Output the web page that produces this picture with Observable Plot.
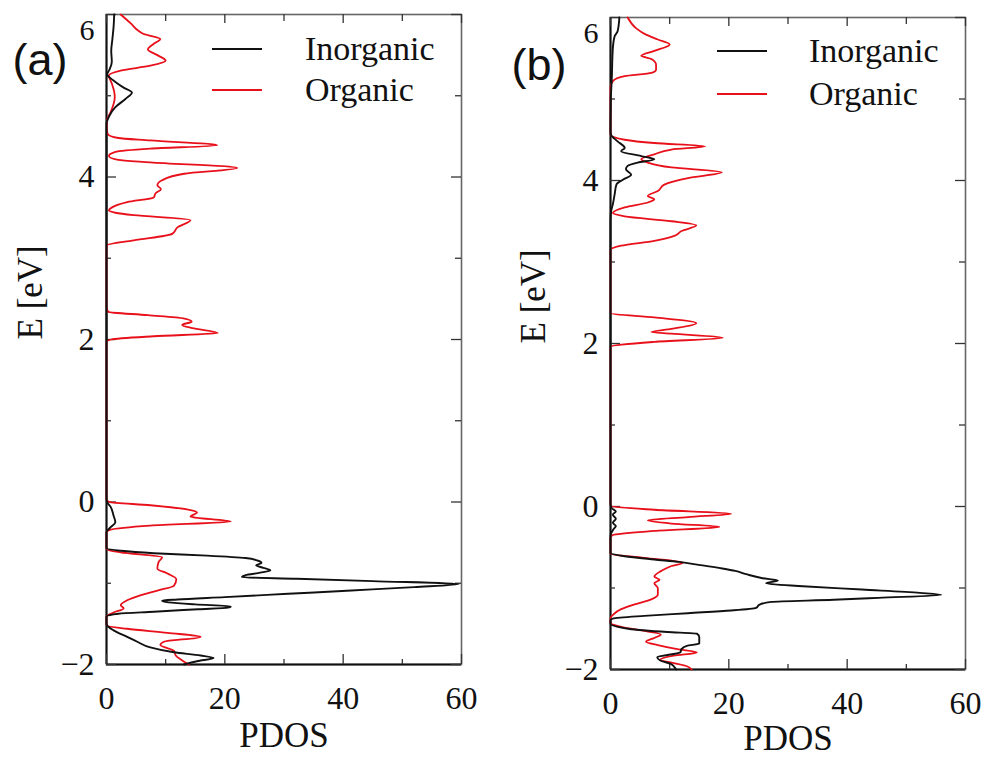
<!DOCTYPE html>
<html><head><meta charset="utf-8">
<script src="https://cdn.jsdelivr.net/npm/d3@7"></script>
<script src="https://cdn.jsdelivr.net/npm/@observablehq/plot@0.6"></script>
<style>
html,body{margin:0;padding:0;background:#fff;}
#wrap{position:relative;width:985px;height:763px;overflow:hidden;background:#fff;}
.panel{position:absolute;top:0;}
.leg{position:absolute;font-family:"Liberation Serif",serif;font-size:34px;line-height:1;color:#111;transform:translateY(-50%);white-space:nowrap;}
.sw{position:absolute;height:0;border-top-style:solid;border-top-width:2px;transform:translateY(-1px);}
</style></head><body><div id="wrap"></div>
<script>
// ---- data: [E (eV), PDOS] pairs ----
const aInorganic = [
 [6.00,1.3],[5.85,1.2],[5.70,1.0],[5.55,0.8],[5.42,0.9],[5.32,0.5],[5.26,0.1],[5.22,0.6],[5.17,1.5],
 [5.10,2.9],[5.04,4.3],[4.96,3.2],[4.86,1.5],[4.74,0.4],[4.66,0.0],[3.0,0.0],[1.0,0.0],[0.05,0.0],
 [0.00,0.1],[-0.06,0.7],[-0.17,1.2],[-0.25,1.5],[-0.31,0.7],[-0.37,0.0],[-0.57,0.0],[-0.60,2.4],
 [-0.63,8.0],[-0.66,17.0],[-0.69,23.5],[-0.72,25.5],[-0.75,26.2],[-0.78,25.3],[-0.81,26.5],[-0.84,27.7],
 [-0.87,26.0],[-0.90,23.5],[-0.925,22.9],[-0.945,32.2],[-0.974,45.0],[-1.010,59.5],[-1.048,52.0],
 [-1.089,41.4],[-1.130,30.7],[-1.171,20.0],[-1.200,12.0],[-1.215,9.4],[-1.235,10.5],[-1.26,15.0],
 [-1.285,21.0],[-1.30,20.5],[-1.32,15.5],[-1.35,8.0],[-1.375,2.0],[-1.41,0.0],[-1.50,0.0],[-1.58,1.2],
 [-1.66,3.5],[-1.72,5.2],[-1.79,7.4],[-1.85,11.4],[-1.89,15.9],[-1.92,18.1],[-1.96,15.3],[-2.00,13.1]
];
const aOrganic = [
 [6.00,2.4],[5.89,4.1],[5.80,5.4],[5.76,6.3],[5.70,9.1],[5.64,8.0],[5.57,7.0],[5.50,8.6],[5.43,10.0],
 [5.37,7.4],[5.31,2.4],[5.25,0.4],[5.15,0.9],[5.05,1.3],[4.98,1.4],[4.90,1.2],[4.80,0.7],[4.70,0.1],
 [4.60,0.05],[4.53,0.2],[4.48,2.0],[4.45,7.4],[4.39,18.7],[4.35,7.4],[4.31,1.5],[4.26,0.4],[4.21,2.0],
 [4.18,7.4],[4.11,22.1],[4.04,13.1],[3.96,9.4],[3.90,8.6],[3.85,9.2],[3.80,8.3],[3.75,8.0],[3.69,3.5],
 [3.62,0.8],[3.59,0.4],[3.56,1.5],[3.53,4.6],[3.47,14.2],[3.38,12.0],[3.30,11.1],[3.22,4.6],[3.16,0.1],
 [3.10,0.0],[2.40,0.0],[2.34,0.3],[2.30,7.0],[2.26,13.0],[2.22,14.4],[2.18,12.8],[2.14,14.5],[2.08,18.8],
 [2.04,8.0],[2.00,0.8],[1.97,0.0],[0.03,0.0],[0.00,0.5],[-0.04,7.4],[-0.10,14.2],[-0.13,15.3],[-0.18,14.2],
 [-0.24,21.0],[-0.29,7.4],[-0.34,0.7],[-0.37,0.0],[-0.58,0.0],[-0.62,2.4],[-0.68,9.4],[-0.74,8.8],
 [-0.82,8.6],[-0.88,10.3],[-0.95,11.8],[-1.03,11.4],[-1.09,8.6],[-1.15,5.7],[-1.21,3.5],[-1.27,2.4],
 [-1.31,2.9],[-1.36,1.2],[-1.41,0.0],[-1.52,0.0],[-1.56,3.5],[-1.61,10.3],[-1.66,15.9],[-1.72,9.7],
 [-1.76,9.1],[-1.83,11.4],[-1.89,11.7],[-1.95,12.8],[-2.00,13.9]
];
const bInorganic = [
 [6.00,1.5],[5.83,1.2],[5.77,0.7],[5.63,0.4],[5.22,0.2],[5.00,0.05],[4.60,0.0],[4.56,0.1],[4.48,1.2],
 [4.40,2.4],[4.36,1.8],[4.30,5.2],[4.26,7.4],[4.22,4.6],[4.18,2.9],[4.14,2.6],[4.07,3.5],[4.01,2.1],
 [3.95,1.0],[3.83,0.7],[3.71,0.4],[3.62,0.1],[3.50,0.0],[1.0,0.0],[0.03,0.0],[-0.02,0.2],[-0.06,0.9],
 [-0.10,0.4],[-0.15,0.9],[-0.20,0.4],[-0.24,0.9],[-0.28,0.5],[-0.33,0.1],[-0.37,0.0],[-0.57,0.0],
 [-0.61,2.4],[-0.65,7.4],[-0.68,11.6],[-0.71,14.4],[-0.76,18.9],[-0.79,21.1],[-0.83,22.9],[-0.88,25.7],
 [-0.908,28.3],[-0.941,26.3],[-0.978,32.5],[-1.019,42.5],[-1.060,52.3],[-1.084,55.9],[-1.121,45.3],
 [-1.145,37.7],[-1.170,27.2],[-1.203,25.2],[-1.244,24.6],[-1.276,20.4],[-1.309,13.1],[-1.342,5.7],
 [-1.375,0.4],[-1.39,0.0],[-1.44,0.0],[-1.50,3.0],[-1.54,9.6],[-1.56,14.6],[-1.60,15.0],[-1.68,15.0],
 [-1.71,12.9],[-1.75,12.0],[-1.79,11.8],[-1.85,7.9],[-1.89,8.4],[-1.93,10.2],[-1.97,10.8],[-2.00,11.1]
];
const bOrganic = [
 [6.00,2.9],[5.87,4.3],[5.79,6.0],[5.73,8.0],[5.67,10.0],[5.59,7.4],[5.53,5.2],[5.49,6.9],[5.42,7.7],
 [5.36,7.7],[5.32,6.9],[5.28,2.4],[5.22,0.4],[5.15,0.0],[4.56,0.0],[4.50,2.4],[4.46,7.4],[4.42,16.0],
 [4.38,10.3],[4.32,7.4],[4.26,5.2],[4.22,6.3],[4.16,10.3],[4.10,18.8],[4.03,13.1],[3.95,9.1],[3.87,8.0],
 [3.81,6.3],[3.77,7.4],[3.73,6.3],[3.67,2.4],[3.60,0.4],[3.56,2.4],[3.50,10.3],[3.45,14.5],[3.38,12.0],
 [3.32,10.8],[3.26,7.4],[3.20,1.8],[3.15,0.0],[2.37,0.0],[2.32,7.4],[2.25,14.5],[2.18,10.3],[2.14,6.9],
 [2.12,10.3],[2.07,19.0],[2.02,7.4],[1.96,0.0],[0.01,0.0],[-0.04,7.4],[-0.09,20.4],[-0.13,13.1],
 [-0.17,6.3],[-0.21,10.3],[-0.25,18.4],[-0.30,7.4],[-0.35,0.4],[-0.38,0.0],[-0.58,0.0],[-0.63,5.7],
 [-0.69,12.2],[-0.73,10.3],[-0.79,8.6],[-0.86,7.4],[-0.90,8.3],[-0.94,7.4],[-1.00,8.0],[-1.08,8.0],
 [-1.14,6.9],[-1.20,4.1],[-1.26,1.8],[-1.33,0.4],[-1.37,0.0],[-1.43,0.0],[-1.48,2.0],[-1.53,6.0],
 [-1.57,8.5],[-1.61,7.5],[-1.66,6.0],[-1.70,8.0],[-1.75,11.3],[-1.79,14.6],[-1.83,10.7],[-1.88,8.4],
 [-1.92,10.5],[-1.96,12.9],[-2.00,13.7]
];
const xMajorTicks = [0, 20, 40, 60];
const xMinorTicks = [10, 30, 50];
const yMajorTicks = [-2, 0, 2, 4, 6];
const yMinorTicks = [-1, 1, 3, 5];
const seriesNames = ["Inorganic", "Organic"];
const seriesColors = ["#111111", "#e8101a"];
const panelLetters = ["(a)", "(b)"];
const xLabel = "PDOS";
const yLabel = "E [eV]";

const fmt = d => d < 0 ? "\u2212" + Math.abs(d) : String(d);
const byE = arr => d3.sort(arr, d => d[0]);

function makePanel(cfg) {
  const H = 763;
  const fh = H - cfg.mT - cfg.mB, fw = cfg.width - cfg.mL - cfg.mR;
  const tk = {stroke: "#333", strokeWidth: 1.3};
  return Plot.plot({
    width: cfg.width, height: H,
    marginLeft: cfg.mL, marginRight: cfg.mR, marginTop: cfg.mT, marginBottom: cfg.mB,
    x: {domain: [0, 60], axis: null},
    y: {domain: [-2, 6], axis: null},
    style: {fontFamily: "Liberation Serif", color: "#111", background: "transparent", overflow: "visible"},
    marks: [
      Plot.frame({stroke: "#666", strokeWidth: 1.6}),
      Plot.ruleX([0], {stroke: "#111", strokeWidth: 2}),
      Plot.ruleY([-2], {stroke: "#111", strokeWidth: 2}),
      Plot.tickX(xMajorTicks, {x: d => d, insetTop: fh - 10, ...tk}),
      Plot.tickX(xMinorTicks, {x: d => d, insetTop: fh - 5, ...tk}),
      Plot.tickX(xMajorTicks, {x: d => d, insetBottom: fh - 9, ...tk}),
      Plot.tickX(xMinorTicks, {x: d => d, insetBottom: fh - 7, ...tk}),
      Plot.tickY(yMajorTicks, {y: d => d, insetRight: fw - 10, ...tk}),
      Plot.tickY(yMinorTicks, {y: d => d, insetRight: fw - 5, ...tk}),
      Plot.tickY(yMajorTicks, {y: d => d, insetLeft: fw - 10, ...tk}),
      Plot.tickY(yMinorTicks, {y: d => d, insetLeft: fw - 6, ...tk}),
      Plot.line(byE(cfg.org), {x: d => d[1], y: d => d[0], stroke: seriesColors[1], strokeWidth: 1.8, curve: "monotone-y"}),
      Plot.line(byE(cfg.inorg), {x: d => d[1], y: d => d[0], stroke: seriesColors[0], strokeWidth: 1.9, curve: "monotone-y"}),
      Plot.text(xMajorTicks, {x: d => d, text: fmt, frameAnchor: "bottom", lineAnchor: "top", dy: 22, fontSize: 32, fill: "#111"}),
      Plot.text(yMajorTicks.filter(d => d !== 6), {y: d => d, text: fmt, frameAnchor: "left", textAnchor: "end", dx: -12, fontSize: 32, fill: "#111"}),
      Plot.text(yMajorTicks.filter(d => d === 6), {y: d => d, text: fmt, frameAnchor: "left", textAnchor: "end", dx: -12, dy: 16, fontSize: 30, fill: "#111"}),
      Plot.text([yLabel], {text: d => d, frameAnchor: "left", rotate: -90, dx: cfg.eDx, fontSize: 35, fill: "#111"}),
      Plot.text([xLabel], {text: d => d, frameAnchor: "bottom", dy: cfg.pDy, fontSize: 35, fill: "#111"}),
      Plot.text([cfg.letter], {text: d => d, frameAnchor: "top-left", textAnchor: "start", dx: cfg.lDx, dy: cfg.lDy, fontSize: 45, fontFamily: "Liberation Sans", fill: "#111"})
    ]
  });
}

const wrap = document.getElementById("wrap");
const panels = [
  {left: 0, width: 495, mL: 106, mR: 34, mT: 14, mB: 99, inorg: aInorganic, org: aOrganic, letter: panelLetters[0],
   lDx: -94, lDy: 29, eDx: -76, pDy: 82, leg: {x1: 212, x2: 262, tx: 305, ys: [49, 90]}},
  {left: 495, width: 490, mL: 115, mR: 20, mT: 17, mB: 94, inorg: bInorganic, org: bOrganic, letter: panelLetters[1],
   lDx: -99, lDy: 31, eDx: -77, pDy: 80, leg: {x1: 717, x2: 767, tx: 809, ys: [51, 94]}}
];
for (const p of panels) {
  const div = document.createElement("div");
  div.className = "panel";
  div.style.left = p.left + "px";
  div.appendChild(makePanel(p));
  wrap.appendChild(div);
  seriesNames.forEach((name, i) => {
    const sw = document.createElement("div");
    sw.className = "sw";
    sw.style.left = p.leg.x1 + "px";
    sw.style.width = (p.leg.x2 - p.leg.x1) + "px";
    sw.style.top = p.leg.ys[i] + "px";
    sw.style.borderTopColor = seriesColors[i];
    wrap.appendChild(sw);
    const t = document.createElement("div");
    t.className = "leg";
    t.style.left = p.leg.tx + "px";
    t.style.top = p.leg.ys[i] + "px";
    t.textContent = name;
    wrap.appendChild(t);
  });
}
</script></body></html>
